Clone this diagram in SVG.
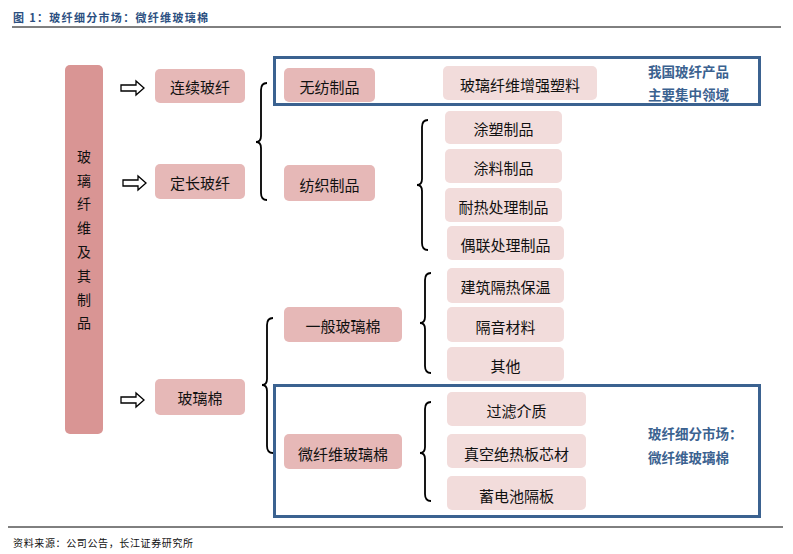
<svg xmlns="http://www.w3.org/2000/svg" width="793" height="554" viewBox="0 0 793 554">
<style>
text{font-family:"Noto Sans CJK SC","Noto Sans",sans-serif;}
.mid{fill:#e6b8b7;}
.lt{fill:#f2dcdb;}
.lbl{font-size:15px;fill:#111;text-anchor:middle;dominant-baseline:central;}
.blue{font-size:13.5px;fill:#3b6290;font-weight:bold;dominant-baseline:central;}
.brace{fill:none;stroke:#000;stroke-width:1.8;}
.arrow{fill:#fff;stroke:#000;stroke-width:1.3;}
.frame{fill:none;stroke:#3b6290;stroke-width:3;}
</style>
<rect width="793" height="554" fill="#fff"/>
<text x="13" y="17" font-size="11" font-weight="bold" fill="#2b4f81" dominant-baseline="central" textLength="195">图 1：玻纤细分市场：微纤维玻璃棉</text>
<line x1="12" y1="27" x2="781" y2="27" stroke="#000" stroke-width="1"/>
<line x1="8" y1="527" x2="783" y2="527" stroke="#000" stroke-width="1"/>
<text x="13" y="542" font-size="10" fill="#111" dominant-baseline="central" textLength="180">资料来源：公司公告，长江证券研究所</text>

<g id="frames">
<rect class="frame" x="274.5" y="57.5" width="485" height="47"/>
<rect class="frame" x="274.5" y="385.5" width="485" height="131"/>
</g>

<g id="root">
<rect x="65" y="65" width="38" height="369" rx="5" fill="#d99594"/>
<g font-size="14" fill="#111" text-anchor="middle" dominant-baseline="central">
<text x="84" y="156">玻</text><text x="84" y="180">璃</text><text x="84" y="203">纤</text><text x="84" y="227">维</text><text x="84" y="251">及</text><text x="84" y="275">其</text><text x="84" y="299">制</text><text x="84" y="322">品</text>
</g>
</g>

<g id="connectors">
<path class="arrow" d="M121,85 H136 V81 L144,88 L136,95 V91 H121 Z"/>
<path class="arrow" d="M123,180 H138 V176 L146,183 L138,190 V186 H123 Z"/>
<path class="arrow" d="M121,397 H136 V393 L144,400 L136,407 V403 H121 Z"/>
<path class="brace" d="M267,83 Q261,83 261,90 V136 Q261,142 256,142 Q261,142 261,148 V193 Q261,200 267,200"/>
<path class="brace" d="M428,120 Q422,120 422,127 V179 Q422,185 417,185 Q422,185 422,191 V243 Q422,250 428,250"/>
<path class="brace" d="M431,273 Q425,273 425,280 V317 Q425,323 420,323 Q425,323 425,329 V366 Q425,373 431,373"/>
<path class="brace" d="M273,318 Q267,318 267,325 V379 Q267,385 262,385 Q267,385 267,391 V446 Q267,453 273,453"/>
<path class="brace" d="M431,402 Q425,402 425,409 V447 Q425,453 420,453 Q425,453 425,459 V494 Q425,501 431,501"/>
</g>

<g id="n-lianxu"><rect class="mid" x="155" y="69" width="90" height="34" rx="5"/><text class="lbl" x="200" y="86">连续玻纤</text></g>
<g id="n-dingchang"><rect class="mid" x="155" y="164" width="90" height="35" rx="5"/><text class="lbl" x="200" y="182">定长玻纤</text></g>
<g id="n-boliMian"><rect class="mid" x="155" y="379" width="90" height="36" rx="5"/><text class="lbl" x="200" y="397">玻璃棉</text></g>

<g id="n-wufang"><rect class="mid" x="284" y="68" width="91" height="34" rx="5"/><text class="lbl" x="329.5" y="86">无纺制品</text></g>
<g id="n-zengqiang"><rect class="lt" x="443" y="66" width="154" height="34" rx="5"/><text class="lbl" x="520" y="84">玻璃纤维增强塑料</text></g>
<g id="t-zhuyao"><text class="blue" x="648" y="71">我国玻纤产品</text><text class="blue" x="648" y="94">主要集中领域</text></g>

<g id="n-fangzhi"><rect class="mid" x="284" y="165" width="91" height="36" rx="5"/><text class="lbl" x="329.5" y="184">纺织制品</text></g>
<g id="n-tusu"><rect class="lt" x="445" y="111" width="117" height="33" rx="5"/><text class="lbl" x="503.5" y="128">涂塑制品</text></g>
<g id="n-tuliao"><rect class="lt" x="445" y="149" width="117" height="34" rx="5"/><text class="lbl" x="503.5" y="167">涂料制品</text></g>
<g id="n-naire"><rect class="lt" x="445" y="188" width="117" height="34" rx="5"/><text class="lbl" x="503.5" y="206">耐热处理制品</text></g>
<g id="n-oulian"><rect class="lt" x="447" y="226" width="117" height="34" rx="5"/><text class="lbl" x="505.5" y="244">偶联处理制品</text></g>

<g id="n-yiban"><rect class="mid" x="284" y="307" width="118" height="35" rx="5"/><text class="lbl" x="343" y="325">一般玻璃棉</text></g>
<g id="n-jianzhu"><rect class="lt" x="447" y="268" width="117" height="35" rx="5"/><text class="lbl" x="505.5" y="286">建筑隔热保温</text></g>
<g id="n-geyin"><rect class="lt" x="447" y="307" width="117" height="35" rx="5"/><text class="lbl" x="505.5" y="326">隔音材料</text></g>
<g id="n-qita"><rect class="lt" x="447" y="347" width="117" height="34" rx="5"/><text class="lbl" x="505.5" y="365">其他</text></g>

<g id="n-weixianwei"><rect class="mid" x="284" y="434" width="118" height="35" rx="5"/><text class="lbl" x="343" y="453">微纤维玻璃棉</text></g>
<g id="n-guolv"><rect class="lt" x="447" y="392" width="139" height="34" rx="5"/><text class="lbl" x="516.5" y="410">过滤介质</text></g>
<g id="n-zhenkong"><rect class="lt" x="447" y="434" width="139" height="34" rx="5"/><text class="lbl" x="516.5" y="453">真空绝热板芯材</text></g>
<g id="n-xudianchi"><rect class="lt" x="447" y="476" width="139" height="34" rx="5"/><text class="lbl" x="516.5" y="495">蓄电池隔板</text></g>
<g id="t-xifen"><text class="blue" x="648" y="433">玻纤细分市场：</text><text class="blue" x="648" y="457">微纤维玻璃棉</text></g>
</svg>
